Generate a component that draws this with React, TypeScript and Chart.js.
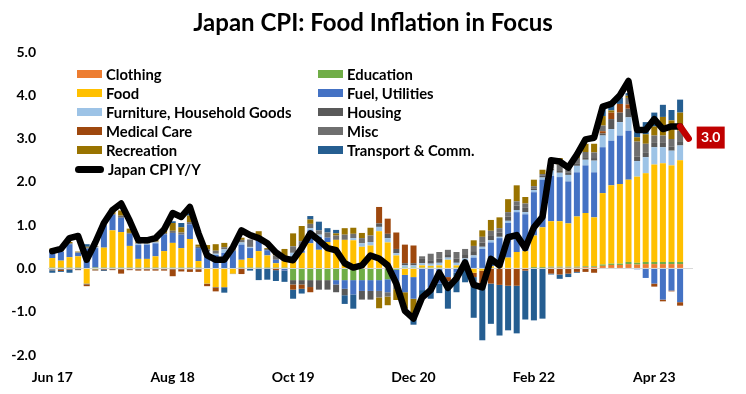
import React, { useEffect, useRef } from 'react';
import { Chart, registerables } from 'chart.js';

Chart.register(...registerables);

const months = [
  'Jun 17', 'Jul 17', 'Aug 17', 'Sep 17', 'Oct 17', 'Nov 17', 'Dec 17',
  'Jan 18', 'Feb 18', 'Mar 18', 'Apr 18', 'May 18', 'Jun 18', 'Jul 18', 'Aug 18', 'Sep 18', 'Oct 18', 'Nov 18', 'Dec 18',
  'Jan 19', 'Feb 19', 'Mar 19', 'Apr 19', 'May 19', 'Jun 19', 'Jul 19', 'Aug 19', 'Sep 19', 'Oct 19', 'Nov 19', 'Dec 19',
  'Jan 20', 'Feb 20', 'Mar 20', 'Apr 20', 'May 20', 'Jun 20', 'Jul 20', 'Aug 20', 'Sep 20', 'Oct 20', 'Nov 20', 'Dec 20',
  'Jan 21', 'Feb 21', 'Mar 21', 'Apr 21', 'May 21', 'Jun 21', 'Jul 21', 'Aug 21', 'Sep 21', 'Oct 21', 'Nov 21', 'Dec 21',
  'Jan 22', 'Feb 22', 'Mar 22', 'Apr 22', 'May 22', 'Jun 22', 'Jul 22', 'Aug 22', 'Sep 22', 'Oct 22', 'Nov 22', 'Dec 22',
  'Jan 23', 'Feb 23', 'Mar 23', 'Apr 23', 'May 23', 'Jun 23', 'Jul 23', 'Aug 23',
];

const tickLabels = ['Jun 17', 'Aug 18', 'Oct 19', 'Dec 20', 'Feb 22', 'Apr 23'];

const seriesNames = [
  'Clothing', 'Education', 'Food', 'Fuel, Utilities', 'Furniture, Household Goods',
  'Housing', 'Medical Care', 'Misc', 'Recreation', 'Transport & Comm.',
];

const seriesColors = [
  '#ED7D31', '#70AD47', '#FFC000', '#4472C4', '#9DC3E6',
  '#595959', '#9E480E', '#6F6F6F', '#997300', '#255E91',
];

const clothing = [
  0.01, 0.01, 0.01, 0.01, 0, 0.01, 0.01, 0.01, 0.01, 0.01,
  0.01, 0.01, 0.01, 0.01, 0.01, 0.01, 0.01, 0.01, 0, 0,
  0, 0, 0.01, 0.01, 0.01, 0.01, 0.01, 0.01, 0.01, 0.01,
  0.01, 0.01, 0.01, 0.01, 0.01, 0, 0, 0, 0, 0,
  0, 0, 0, 0, 0, 0, 0, 0, 0, 0,
  0, 0, 0, 0, 0, 0, 0.01, 0.01, 0.02, 0.02,
  0.02, 0.02, 0.03, 0.03, 0.06, 0.08, 0.08, 0.1, 0.09, 0.1,
  0.1, 0.1, 0.1, 0.1,
];

const education = [
  0.01, 0.01, 0.01, 0.01, 0.01, 0.01, 0.01, 0.01, 0.01, 0.01,
  0.01, 0.01, 0.01, 0.01, 0.01, 0.01, 0.01, 0.01, 0.01, 0.01,
  0.01, 0.01, 0.01, 0.01, 0.01, 0.01, 0.01, 0.01, -0.27, -0.27,
  -0.27, -0.27, -0.27, -0.27, -0.27, -0.27, -0.27, -0.27, -0.27, -0.25,
  -0.03, 0.02, 0.02, 0.02, 0.02, 0.02, 0, 0.02, 0.02, 0,
  0, 0, 0, 0, 0, 0, 0.02, 0.02, 0.02, 0.02,
  0.02, 0.02, 0.02, 0.02, 0.03, 0.03, 0.03, 0.05, 0.04, 0.05,
  0.05, 0.05, 0.05, 0.05,
];

const food = [
  0.22, 0.16, 0.24, 0.26, -0.35, -0.02, 0.46, 0.86, 0.82, 0.5,
  0.2, 0.2, 0.26, 0.38, 0.57, 0.45, 0.66, 0.15, -0.35, -0.43,
  -0.43, -0.12, 0.18, 0.22, 0.38, 0.28, 0.1, 0.15, 0.2, 0.35,
  0.57, 0.42, 0.6, 0.65, 0.65, 0.65, 0.5, 0.53, 0.86, 0.6,
  0.3, -0.15, -0.2, 0.05, 0.04, 0.05, 0.2, 0.05, 0.05, -0.1,
  -0.05, 0.05, 0.1, 0.25, 0.38, 0.4, 0.73, 0.92, 1.05, 1.05,
  1.0, 1.16, 1.23, 1.13, 1.65, 1.81, 1.84, 1.9, 1.99, 2.05,
  2.25, 2.28, 2.23, 2.35,
];

const fuel = [
  0.18, 0.2, 0.3, 0.08, 0.45, 0.45, 0.52, 0.36, 0.33, 0.28,
  0.32, 0.33, 0.3, 0.39, 0.23, 0.31, 0.34, 0.3, 0.35, 0.3,
  0.35, 0.4, 0.35, 0.23, 0.25, 0.12, 0.08, -0.05, 0.05, 0.05,
  0.3, 0.3, 0.1, -0.1, -0.2, -0.33, -0.25, -0.25, -0.25, -0.3,
  -0.35, -0.4, -0.5, -0.5, -0.45, -0.35, -0.2, -0.1, 0.1, 0.25,
  0.45, 0.55, 0.6, 0.8, 0.92, 0.85, 1.0, 1.1, 1.05, 1.02,
  0.97, 1.02, 1.1, 1.04, 1.06, 1.03, 1.12, 1.13, -0.02, -0.22,
  -0.35, -0.72, -0.51, -0.78,
];

const furniture = [
  -0.02, 0.01, 0, -0.01, 0, 0.02, 0, 0, 0, 0,
  0.03, 0.02, 0.02, 0, 0, 0, 0, 0, 0.03, 0.03,
  0.08, 0, 0.05, 0.02, 0, 0, 0, 0, 0.1, 0.1,
  0.05, 0.05, 0, 0, 0, 0.05, 0.08, 0.08, 0.1, 0.1,
  0.05, 0.05, 0.05, 0.05, 0.05, 0.06, 0.05, 0.06, 0.06, 0.05,
  0.05, 0.05, 0.03, 0.05, 0.05, 0.05, 0.05, 0.05, 0.12, 0.1,
  0.15, 0.15, 0.13, 0.27, 0.27, 0.27, 0.31, 0.31, 0.36, 0.37,
  0.4, 0.37, 0.34, 0.34,
];

const housing = [
  -0.03, -0.03, -0.02, -0.02, -0.02, -0.02, -0.02, -0.02, -0.02, -0.02,
  -0.02, -0.02, -0.02, -0.02, -0.02, -0.02, -0.02, -0.02, -0.01, -0.01,
  -0.01, -0.01, -0.01, 0.02, -0.01, -0.01, -0.01, -0.01, -0.1, -0.1,
  -0.16, -0.22, -0.22, -0.18, -0.15, 0, -0.2, -0.2, 0.08, 0.1,
  0.1, 0.05, 0.05, 0.1, 0.08, 0.1, 0.08, 0.1, 0.1, 0.1,
  0.1, 0.1, 0.1, 0.1, 0.1, 0.1, 0.04, 0.04, 0.05, 0.06,
  0.06, 0.06, 0.06, 0.06, 0.05, 0.23, 0.22, 0.2, 0.1, 0.1,
  0.1, 0.1, 0.1, 0.1,
];

const medical = [
  0, -0.03, -0.01, -0.01, -0.04, -0.01, -0.02, -0.02, -0.1, -0.02,
  -0.03, -0.03, -0.03, -0.03, -0.16, -0.05, -0.06, -0.06, -0.05, -0.09,
  0, 0, -0.12, 0, 0, 0, -0.03, 0, -0.12, -0.1,
  -0.12, 0, 0, 0, 0, 0, 0, 0, 0.38, 0.35,
  0.38, 0.43, 0.41, 0, 0, 0, -0.1, 0, 0, -0.1,
  -0.35, -0.35, -0.38, -0.4, -0.4, -0.05, 0, 0, -0.12, -0.14,
  -0.12, -0.08, -0.08, -0.1, 0.05, 0.15, 0.2, 0.1, 0, 0,
  -0.07, -0.04, -0.02, -0.08,
];

const misc = [
  0.02, 0.02, 0.02, 0.01, 0.02, 0.02, 0.02, 0.02, 0.05, 0.02,
  0.02, 0.01, 0.02, 0.03, 0.05, 0.05, 0.05, 0.03, 0.05, 0.07,
  0.05, 0.03, 0.06, 0.16, 0.06, 0.03, 0.1, 0.1, 0.15, 0.12,
  0.1, 0.1, 0.12, 0.1, 0.12, 0.1, 0.12, 0.15, -0.15, -0.1,
  -0.1, 0, 0, 0.06, 0.15, 0.15, 0.1, 0.15, 0.12, 0.12,
  0.13, 0.12, 0.1, 0.1, 0.1, 0.1, 0.05, 0.04, 0.1, 0.13,
  0.1, 0.12, 0.12, 0.13, 0.13, 0, 0, 0.15, 0.35, 0.21,
  0.17, 0.17, 0.17, 0.24,
];

const recreation = [
  0.02, 0.01, 0.03, 0.02, 0.02, 0.01, 0.05, 0.12, 0.12, 0.1,
  0.03, 0.03, 0.04, 0.12, 0.18, 0.12, 0.15, 0.05, 0.1, 0.15,
  0.1, 0.02, 0.05, 0, 0.15, 0.02, 0.1, 0.18, 0.3, 0.35,
  0.1, 0, 0, 0.05, 0.15, 0.14, 0.12, 0.18, -0.25, -0.2,
  -0.25, -0.38, -0.45, 0, 0, 0, 0, 0, 0, 0.13,
  0.15, 0.25, 0.25, 0.3, 0.37, 0.15, 0.15, 0.1, 0.05, 0.15,
  0, 0.08, 0.19, 0.2, 0.22, 0.05, 0, 0.05, 0.1, 0.22,
  0.21, 0.43, 0.43, 0.42,
];

const transport = [
  -0.05, -0.02, -0.07, 0, 0.06, 0, -0.02, 0, 0, 0,
  0, 0, 0, 0, 0.04, 0.1, 0.05, 0, 0, 0,
  -0.12, 0, 0, -0.05, -0.26, -0.25, -0.25, -0.25, -0.21, -0.11,
  0.08, 0.2, 0.1, 0.08, -0.2, -0.33, 0, 0, 0, 0,
  0, 0, -0.15, -0.2, -0.25, -0.22, -0.63, -0.45, -0.32, -0.94,
  -1.26, -0.93, -1.17, -1.03, -1.1, -1.13, -1.2, -1.16, -0.02, -0.1,
  -0.08, -0.02, 0, 0, 0.2, 0.2, 0.15, 0.06, 0.12, 0.28,
  0.32, 0.28, 0.24, 0.3,
];

const cpiYoY = [
  0.4, 0.45, 0.7, 0.75, 0.2, 0.6, 1.05, 1.35, 1.5, 1.1,
  0.65, 0.65, 0.7, 0.9, 1.28, 1.19, 1.42, 0.81, 0.3, 0.2,
  0.2, 0.49, 0.88, 0.77, 0.7, 0.58, 0.37, 0.23, 0.19, 0.47,
  0.81, 0.65, 0.47, 0.42, 0.12, 0.02, 0.07, 0.3, 0.23, 0.07,
  -0.35, -0.98, -1.16, -0.67, -0.5, -0.1, -0.45, -0.23, 0.14, -0.38,
  -0.44, 0.22, 0.07, 0.72, 0.77, 0.47, 0.95, 1.19, 2.5, 2.47,
  2.33, 2.63, 2.98, 3.02, 3.74, 3.8, 4.0, 4.33, 3.2, 3.2,
  3.45, 3.22, 3.28, 3.28, 3.0,
];

const seriesValues = [
  clothing, education, food, fuel, furniture,
  housing, medical, misc, recreation, transport,
];

const FONT = 'Lato, "Open Sans", sans-serif';

const endLabelPlugin = {
  id: 'endLabel',
  afterDatasetsDraw(chart: any) {
    const meta = chart.getDatasetMeta(0);
    const last = meta.data.length - 1;
    const p = meta.data[last];
    if (!p) return;
    const c = chart.ctx;
    c.save();
    c.fillStyle = '#C00000';
    c.fillRect(p.x + 8, p.y - 12, 28, 22);
    c.fillStyle = '#FFFFFF';
    c.font = 'bold 14px ' + FONT;
    c.textAlign = 'center';
    c.textBaseline = 'middle';
    c.fillText(cpiYoY[last].toFixed(1), p.x + 22, p.y - 1);
    c.restore();
  },
};

export default function App() {
  const ref = useRef<HTMLCanvasElement>(null);

  useEffect(() => {
    const canvas = ref.current;
    if (!canvas) return;
    const lastIdx = cpiYoY.length - 1;
    const datasets: any[] = [
      {
        type: 'line',
        label: 'Japan CPI Y/Y',
        data: cpiYoY,
        borderColor: '#000000',
        borderWidth: 6.5,
        pointRadius: 0,
        pointHoverRadius: 0,
        tension: 0,
        order: 0,
        stack: 'cpi',
        borderCapStyle: 'round',
        borderJoinStyle: 'round',
        segment: {
          borderColor: (c: any) => (c.p1DataIndex === lastIdx ? '#C00000' : '#000000'),
        },
      },
      ...seriesNames.map((name, i) => ({
        type: 'bar',
        label: name,
        data: seriesValues[i],
        backgroundColor: seriesColors[i],
        borderWidth: 0,
        stack: 'contrib',
        order: 1,
        barPercentage: 0.7,
        categoryPercentage: 1,
      })),
    ];

    const chart = new Chart(canvas, {
      type: 'bar',
      data: { labels: months, datasets },
      options: {
        responsive: false,
        animation: false,
        devicePixelRatio: 1,
        layout: { padding: { top: 52, left: 0, right: 53, bottom: 0 } },
        plugins: {
          legend: { display: false },
          tooltip: { enabled: false },
          title: { display: false },
        },
        scales: {
          x: {
            stacked: true,
            grid: { display: false, drawTicks: false, tickLength: 0 },
            border: { display: false },
            afterFit: (scale: any) => { scale.height = 39; },
            ticks: {
              autoSkip: false,
              maxRotation: 0,
              minRotation: 0,
              padding: 14,
              color: '#000000',
              font: { family: FONT, size: 14, weight: 'bold' },
              callback: (_v: any, i: number) => (tickLabels.includes(months[i]) ? months[i] : ''),
            },
          },
          y: {
            stacked: true,
            min: -2,
            max: 5,
            border: { display: false },
            afterFit: (scale: any) => { scale.width = 48; },
            grid: {
              drawTicks: false,
              tickLength: 0,
              color: (c: any) => (c.tick && c.tick.value === 0 ? '#D9D9D9' : 'rgba(0,0,0,0)'),
            },
            ticks: {
              stepSize: 1,
              padding: 12,
              color: '#000000',
              font: { family: FONT, size: 14, weight: 'bold' },
              callback: (v: any) => Number(v).toFixed(1),
            },
          },
        },
      } as any,
      plugins: [endLabelPlugin],
    });

    if ((document as any).fonts && (document as any).fonts.load) {
      (document as any).fonts.load('bold 14px Lato').then(() => chart.update()).catch(() => {});
    }

    return () => chart.destroy();
  }, []);

  const legendItems = seriesNames.map((name, i) => ({ name, color: seriesColors[i] }));

  return (
    <div style={{ position: 'fixed', left: 0, top: 0, width: 746, height: 394, background: '#FFFFFF', overflow: 'hidden', fontFamily: FONT }}>
      <canvas ref={ref} width={746} height={394} style={{ position: 'absolute', left: 0, top: 0, width: 746, height: 394 }} />
      <div style={{ position: 'absolute', left: 0, top: 7, width: 746, textAlign: 'center', fontSize: 24, fontWeight: 700, lineHeight: '30px', color: '#000' }}>
        Japan CPI: Food Inflation in Focus
      </div>
      {legendItems.map((it, i) => {
        const col = i % 2;
        const row = Math.floor(i / 2);
        const left = col === 0 ? 77 : 318;
        const cy = 74 + row * 19;
        return (
          <div key={it.name} style={{ position: 'absolute', left, top: cy - 9, height: 18, display: 'flex', alignItems: 'center', whiteSpace: 'nowrap' }}>
            <div style={{ width: 25, height: 8, background: it.color, marginRight: 4 }} />
            <span style={{ fontSize: 14.8, fontWeight: 700, color: '#000', lineHeight: '18px' }}>{it.name}</span>
          </div>
        );
      })}
      <div style={{ position: 'absolute', left: 75, top: 169 - 9, height: 18, display: 'flex', alignItems: 'center', whiteSpace: 'nowrap' }}>
        <div style={{ width: 29, height: 7, background: '#000', borderRadius: 4, marginRight: 4 }} />
        <span style={{ fontSize: 14.8, fontWeight: 700, color: '#000', lineHeight: '18px' }}>Japan CPI Y/Y</span>
      </div>
    </div>
  );
}
